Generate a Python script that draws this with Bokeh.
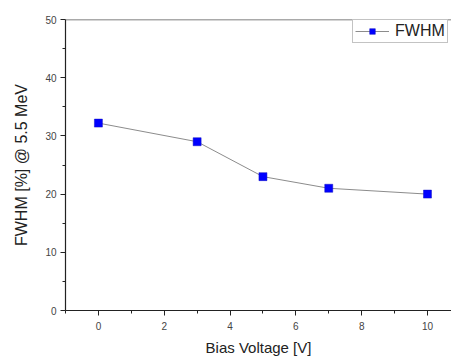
from bokeh.plotting import figure
from bokeh.models import Range1d, FixedTicker, Legend, LegendItem, Span
from bokeh.embed import file_html
from bokeh.resources import INLINE

bias_v = [0, 3, 5, 7, 10]
fwhm = [32.2, 29.0, 23.0, 21.0, 20.0]
x_ticks = [0, 2, 4, 6, 8, 10]
x_minor = [-1, 1, 3, 5, 7, 9]
y_ticks = [0, 10, 20, 30, 40, 50]
y_minor = [5, 15, 25, 35, 45]

FONT = "Liberation Sans"

p = figure(width=451, height=358, output_backend="svg", toolbar_location=None,
           x_range=Range1d(-1, 10.73), y_range=Range1d(0, 50),
           min_border_left=65, min_border_right=0, min_border_top=19, min_border_bottom=47)
p.outline_line_color = None
p.grid.visible = False
p.background_fill_color = "white"

line = p.line(bias_v, fwhm, line_color="#8c8c8c", line_width=1)
pts = p.scatter(bias_v, fwhm, marker="square", size=8, fill_color="#0000ff", line_color="#1010c0", line_width=0.5)

p.add_layout(Span(location=50, dimension="width", line_color="#555555", line_width=1.5))

for ax in (p.xaxis[0], p.yaxis[0]):
    ax.axis_line_color = "#222222"
    ax.axis_line_width = 1.2
    ax.major_tick_line_color = "#222222"
    ax.minor_tick_line_color = "#222222"
    ax.major_tick_out = 5
    ax.major_tick_in = 0
    ax.minor_tick_out = 3
    ax.minor_tick_in = 0
    ax.major_label_text_font = FONT
    ax.major_label_text_font_size = "10px"
    ax.major_label_text_color = "#444444"
    ax.axis_label_text_font = FONT
    ax.axis_label_text_font_style = "normal"
    ax.axis_label_text_color = "#222222"

p.xaxis[0].ticker = FixedTicker(ticks=x_ticks, minor_ticks=x_minor)
p.yaxis[0].ticker = FixedTicker(ticks=y_ticks, minor_ticks=y_minor)
p.xaxis[0].axis_label = "Bias Voltage [V]"
p.yaxis[0].axis_label = "FWHM [%] @ 5.5 MeV"
p.xaxis[0].axis_label_text_font_size = "15px"
p.yaxis[0].axis_label_text_font_size = "16px"
p.xaxis[0].axis_label_standoff = 6
p.yaxis[0].axis_label_standoff = 12
p.xaxis[0].major_label_standoff = 6
p.yaxis[0].major_label_standoff = 4

legend = Legend(items=[LegendItem(label="FWHM", renderers=[line, pts])],
                location=(287, 267), label_text_font=FONT, label_text_font_size="16px",
                label_text_color="#222222", border_line_color="#888888",
                glyph_width=34, glyph_height=14, padding=2, spacing=0, label_height=15,
                label_standoff=6, margin=0, background_fill_alpha=1)
p.add_layout(legend, "center")

open("out.html", "w").write(file_html(p, INLINE))
